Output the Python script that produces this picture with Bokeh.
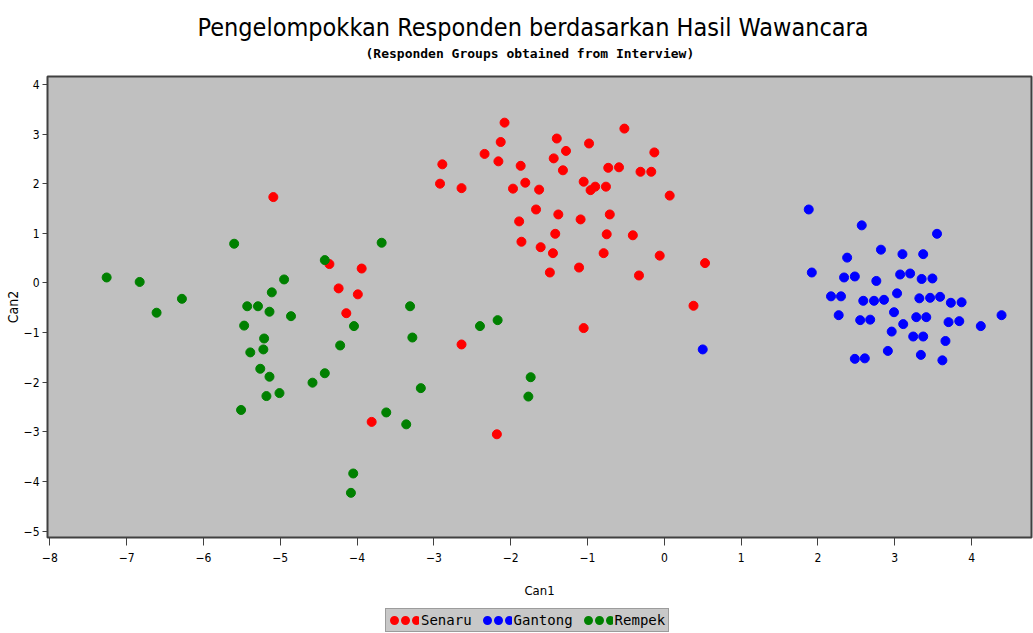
from bokeh.plotting import figure
from bokeh.layouts import column
from bokeh.models import (ColumnDataSource, Range1d, FixedTicker, Title, Legend,
                          LegendItem)
from bokeh.embed import file_html
from bokeh.resources import INLINE

# ---- data ----
senaru_x = [-5.09, -2.92, -2.64, -4.36, -3.94, -4.24, -3.99, -4.14, -2.64, -3.81,
            -2.08, -0.52, -1.40, -2.13, -0.98, -1.28, -0.13, -2.34, -2.16, -1.44,
            -2.89, -1.87, -0.73, -0.59, -1.32, -0.31, -0.17, -1.05, -1.81, -1.97,
            -1.63, -0.90, -0.96, -0.76, 0.07, -1.67, -1.38, -1.09, -0.71, -1.89,
            -1.42, -0.75, -0.41, -1.86, -1.61, -1.45, -0.79, -0.06, 0.53, -1.49,
            -1.11, -0.33, 0.38, -1.05, -2.18]
senaru_y = [1.73, 2.00, 1.91, 0.38, 0.29, -0.11, -0.23, -0.61, -1.24, -2.80,
            3.23, 3.11, 2.91, 2.84, 2.81, 2.66, 2.63, 2.60, 2.45, 2.51,
            2.39, 2.36, 2.32, 2.33, 2.27, 2.24, 2.24, 2.04, 2.02, 1.90,
            1.88, 1.94, 1.87, 1.94, 1.76, 1.48, 1.38, 1.28, 1.38, 1.24,
            0.99, 0.98, 0.96, 0.83, 0.72, 0.60, 0.60, 0.55, 0.40, 0.21,
            0.31, 0.15, -0.46, -0.91, -3.05]

gantong_x = [0.50, 1.88, 2.57, 3.55, 2.82, 2.38, 3.10, 3.37, 1.92, 2.34, 2.48,
             2.76, 3.07, 3.20, 3.35, 3.49, 2.17, 2.30, 2.59, 2.73, 2.86,
             3.03, 3.32, 3.46, 3.59, 3.73, 3.87, 2.27, 2.99, 2.55, 2.68,
             3.28, 3.41, 3.11, 3.70, 3.84, 4.39, 4.12, 2.96, 3.24, 3.37,
             3.66, 2.91, 3.34, 2.48, 2.61, 3.62]
gantong_y = [-1.34, 1.48, 1.16, 0.99, 0.67, 0.51, 0.58, 0.58, 0.21, 0.11, 0.13,
             0.04, 0.17, 0.19, 0.08, 0.09, -0.27, -0.27, -0.36, -0.36, -0.34,
             -0.21, -0.31, -0.30, -0.28, -0.40, -0.39, -0.65, -0.59, -0.75, -0.74,
             -0.69, -0.69, -0.83, -0.79, -0.77, -0.65, -0.87, -0.98, -1.08, -1.08,
             -1.17, -1.37, -1.45, -1.53, -1.52, -1.56]

rempek_x = [-5.60, -3.68, -4.42, -7.26, -6.83, -6.28, -6.61, -4.95, -5.11, -5.43,
            -5.29, -5.14, -4.86, -5.47, -5.21, -5.22, -5.39, -4.04, -4.22, -3.31,
            -3.28, -2.40, -5.26, -5.14, -4.42, -4.58, -5.01, -5.18, -5.51, -3.17,
            -3.62, -3.36, -4.05, -4.08, -2.17, -1.74, -1.77]
rempek_y = [0.79, 0.81, 0.46, 0.11, 0.02, -0.32, -0.60, 0.07, -0.19, -0.47,
            -0.47, -0.58, -0.67, -0.86, -1.12, -1.34, -1.40, -0.87, -1.26, -0.47,
            -1.10, -0.87, -1.73, -1.89, -1.82, -2.01, -2.22, -2.28, -2.56, -2.12,
            -2.61, -2.85, -3.84, -4.23, -0.75, -1.90, -2.29]

groups = ["Senaru", "Gantong", "Rempek"]
group_colors = ["#FF0000", "#0000FF", "#008000"]
x_ticks = [-8, -7, -6, -5, -4, -3, -2, -1, 0, 1, 2, 3, 4]
y_ticks = [-5, -4, -3, -2, -1, 0, 1, 2, 3, 4]

NARROW = "'DejaVu Sans Condensed', 'Liberation Sans Narrow', sans-serif"

p = figure(width=1033, height=608, output_backend="svg", toolbar_location=None,
           x_range=Range1d(-8.03, 4.78), y_range=Range1d(-5.13, 4.16),
           min_border_left=47, min_border_right=2, min_border_top=76,
           min_border_bottom=71)

p.background_fill_color = "#C0C0C0"
p.border_fill_color = "white"
p.outline_line_color = "#404040"
p.outline_line_width = 2
p.xgrid.visible = False
p.ygrid.visible = False

# titles
sub = Title(text="(Responden Groups obtained from Interview)", align="left",
            text_font="DejaVu Sans Mono", text_font_size="13px",
            text_font_style="bold", text_color="black", offset=318, standoff=31)
main = Title(text="Pengelompokkan Responden berdasarkan Hasil Wawancara",
             align="left", text_font=NARROW, text_font_size="25px",
             text_font_style="normal", text_color="black", offset=150, standoff=-26)
p.add_layout(sub, "above")
p.add_layout(main, "above")

# axes
for ax in (p.xaxis[0], p.yaxis[0]):
    ax.major_label_text_font = NARROW
    ax.major_label_text_font_size = "12px"
    ax.major_label_text_color = "black"
    ax.axis_label_text_font = NARROW
    ax.axis_label_text_font_size = "13px"
    ax.axis_label_text_font_style = "normal"
    ax.axis_label_text_color = "black"
    ax.axis_line_color = None
    ax.minor_tick_line_color = None
    ax.major_tick_line_color = "#404040"
    ax.major_tick_in = 0

p.xaxis.ticker = FixedTicker(ticks=x_ticks)
p.yaxis.ticker = FixedTicker(ticks=y_ticks)
p.xaxis.axis_label = "Can1"
p.yaxis.axis_label = "Can2"
p.yaxis.axis_label_text_font_size = "14px"
p.xaxis.major_tick_out = 8
p.xaxis.major_label_standoff = 7
p.xaxis.axis_label_standoff = 18
p.yaxis.major_tick_out = 5
p.yaxis.major_label_standoff = 3
p.yaxis.axis_label_standoff = 0
p.yaxis.major_label_orientation = "horizontal"

data = [(senaru_x, senaru_y), (gantong_x, gantong_y), (rempek_x, rempek_y)]
for name, color, (xs, ys) in zip(groups, group_colors, data):
    src = ColumnDataSource(dict(x=xs, y=ys))
    p.scatter("x", "y", source=src, size=9, marker="circle",
              fill_color=color, line_color=color)

# ---- legend strip below the plot ----
lf = figure(width=1033, height=25, output_backend="svg", toolbar_location=None,
            x_range=Range1d(0, 1), y_range=Range1d(0, 1), min_border=0,
            x_axis_location=None, y_axis_location=None)
lf.grid.visible = False
lf.outline_line_color = None
lf.background_fill_color = "white"
items = []
for name, color in zip(groups, group_colors):
    # legend-only renderer (off-range): dotted thick line -> three dots
    lr = lf.line(x=[-100, -99], y=[-100, -100], line_color=color, line_width=9,
                 line_dash="0 11", line_dash_offset=-5, line_cap="round")
    items.append(LegendItem(label=name, renderers=[lr]))

legend = Legend(items=items, orientation="horizontal", location=(338, 1),
                background_fill_color="#C8C8C8", background_fill_alpha=1.0,
                border_line_color="#707070", border_line_width=1,
                label_text_font="DejaVu Sans Mono", label_text_font_size="14px",
                label_text_color="black", glyph_width=30, glyph_height=14,
                label_standoff=2, spacing=10, padding=3, margin=0,
                label_height=14)
lf.add_layout(legend, "center")

layout = column(p, lf, spacing=0)
open("out.html", "w").write(file_html(layout, INLINE))
